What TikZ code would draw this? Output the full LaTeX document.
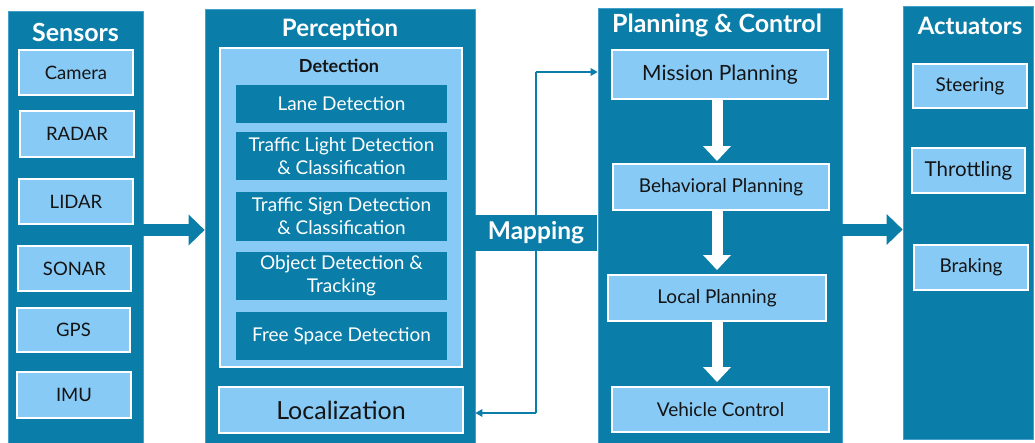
\documentclass[tikz,border=0pt]{standalone}
\usepackage{fontspec}
\setmainfont{Lato}
\usetikzlibrary{arrows.meta}
\definecolor{dk}{HTML}{0A7EA8}
\definecolor{lb}{HTML}{88CAF6}
\definecolor{tx}{HTML}{141414}
\tikzset{
  col/.style={fill=dk, draw=lb!45!dk, line width=0.8pt, inner sep=0pt},
  coltitle/.style={text=white, font=\bfseries\fontsize{25}{28}\selectfont, inner sep=0pt},
  lbox/.style={fill=lb, draw=white, line width=2pt, inner sep=0pt, text=tx, align=center, font=\fontsize{19}{22}\selectfont},
  dbox/.style={fill=dk, draw=none, inner sep=0pt, text=white, align=center, font=\fontsize{19}{23}\selectfont},
  blockarrow/.style={dk, line width=12pt, -{Triangle[length=16pt,width=31pt,line width=0pt]}},
  downarrow/.style={white, line width=11pt, -{Triangle[length=15pt,width=28pt,line width=0pt]}},
  thinarrow/.style={dk, line width=2pt, -{Triangle[length=7pt,width=8pt,line width=0pt]}}
}
\begin{document}
\begin{tikzpicture}[x=1pt,y=-1pt]
\useasboundingbox (0,0) rectangle (1035,442);
\fill[white] (0,0) rectangle (1035,442);
% columns
\node[col, minimum width=135pt, minimum height=433pt] (sensors) at (75.5,227.5) {};
\node[col, minimum width=270pt, minimum height=435pt] (percep) at (340,226.5) {};
\node[col, minimum width=244pt, minimum height=436pt] (plan) at (720,226) {};
\node[col, minimum width=130pt, minimum height=433pt] (act) at (968,222.5) {};
% titles
\node[coltitle] (tsens) at (75.5,32) {Sensors};
\node[coltitle, font=\bfseries\fontsize{24}{28}\selectfont] (tperc) at (340,30) {Perception};
\node[coltitle] (tplan) at (717,25) {Planning \& Control};
\node[coltitle, font=\bfseries\fontsize{24}{28}\selectfont] (tact) at (970,26) {Actuators};
% sensors
\tikzset{sbox/.style={lbox, font=\fontsize{18.5}{22}\selectfont}}
\node[sbox, minimum width=114pt, minimum height=45pt] (camera) at (76,72.5) {Camera};
\node[sbox, minimum width=114pt, minimum height=46pt] (radar) at (77,134) {RADAR};
\node[sbox, minimum width=114pt, minimum height=45pt] (lidar) at (76,201.5) {LIDAR};
\node[sbox, minimum width=113pt, minimum height=45pt] (sonar) at (74.5,268.5) {SONAR};
\node[sbox, minimum width=113pt, minimum height=44pt] (gps) at (73.5,330) {GPS};
\node[sbox, minimum width=114pt, minimum height=46pt] (imu) at (74,395) {IMU};
% perception
\node[lbox, minimum width=242pt, minimum height=319pt] (detect) at (341,207.5) {};
\node[text=tx, font=\bfseries\fontsize{18}{20}\selectfont, inner sep=0pt] (tdet) at (339,66) {Detection};
\node[dbox, minimum width=211pt, minimum height=38pt] (lane) at (341.5,104) {Lane Detection};
\node[dbox, minimum width=211pt, minimum height=48pt] (tl) at (341.5,156) {Traffic Light Detection\\\& Classification};
\node[dbox, minimum width=211pt, minimum height=49pt] (ts) at (341.5,216.5) {Traffic Sign Detection\\\& Classification};
\node[dbox, minimum width=211pt, minimum height=48pt] (obj) at (341.5,276) {Object Detection \&\\Tracking};
\node[dbox, minimum width=211pt, minimum height=48pt] (free) at (341.5,336) {Free Space Detection};
\node[lbox, minimum width=244pt, minimum height=46pt, font=\fontsize{25}{28}\selectfont] (loc) at (341,410) {Localization};
% mapping
\coordinate (mtop) at (536,72);
\coordinate (mbot) at (536,413);
\draw[dk, line width=2pt] (mtop) -- (mbot);
\draw[thinarrow] (mtop) -- (plan.west |- mtop);
\draw[thinarrow] (mbot) -- (percep.east |- mbot);
\node[fill=dk, minimum width=122pt, minimum height=36pt, inner sep=0pt, text=white, font=\fontsize{24.5}{28}\selectfont\bfseries] (map) at (536,233) {Mapping};
% planning
\node[lbox, minimum width=216pt, minimum height=49pt, font=\fontsize{21}{24}\selectfont] (mission) at (720,74.5) {Mission Planning};
\node[lbox, minimum width=216pt, minimum height=46pt] (behav) at (721,187) {Behavioral Planning};
\node[lbox, minimum width=218pt, minimum height=46pt] (local) at (717,298) {Local Planning};
\node[lbox, minimum width=217pt, minimum height=45pt] (vehicle) at (720.5,409.5) {Vehicle Control};
\draw[downarrow] (mission.south -| 717,0) -- ([yshift=2pt]behav.north -| 717,0);
\draw[downarrow] (behav.south -| 717,0) -- ([yshift=4pt]local.north -| 717,0);
\draw[downarrow] (local.south -| 717,0) -- ([yshift=4pt]vehicle.north -| 717,0);
% actuators
\node[lbox, minimum width=114pt, minimum height=44pt] (steer) at (970,86) {Steering};
\node[lbox, minimum width=113pt, minimum height=45pt, font=\fontsize{20.5}{24}\selectfont] (throt) at (968.5,170.5) {Throttling};
\node[lbox, minimum width=114pt, minimum height=45pt] (brake) at (971,267.5) {Braking};
% block arrows
\draw[blockarrow] (sensors.east |- 0,230) -- (percep.west |- 0,230);
\draw[blockarrow] (plan.east |- 0,229.5) -- (act.west |- 0,229.5);
\end{tikzpicture}
\end{document}
